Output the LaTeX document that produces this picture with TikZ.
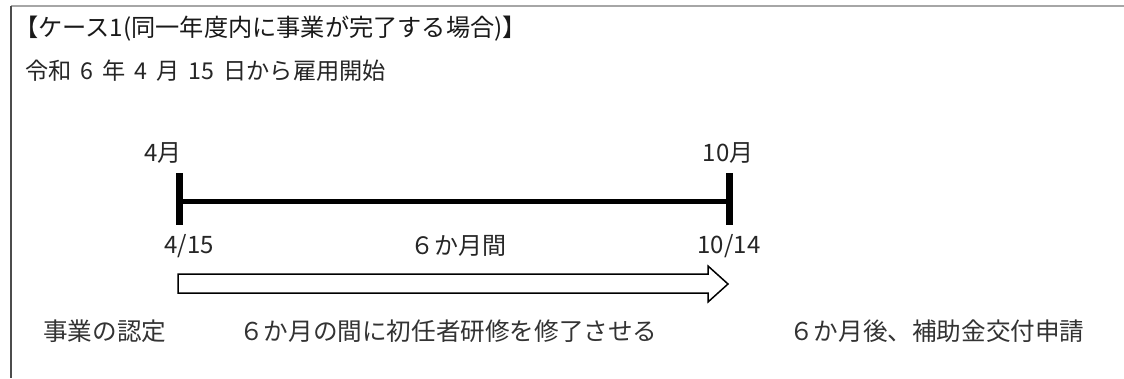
\documentclass[tikz,border=0pt]{standalone}
\usepackage{fontspec}
\setmainfont{Noto Sans CJK JP}
\newcommand{\gp}{\hspace{9pt}}
\begin{document}
\begin{tikzpicture}[x=1pt,y=-1pt,
  lbl/.style={inner sep=0pt, text=black!85, font=\fontsize{24}{28}\selectfont},
  low/.style={inner sep=0pt, text=black!80, font=\fontsize{24.6}{28}\selectfont, anchor=west},
  tick/.style={line width=6.5pt},
  bar/.style={line width=4.5pt},
  framel/.style={line width=1.5pt}]
\useasboundingbox (0,0) rectangle (1124,378);
\fill[white] (0,0) rectangle (1124,378);
% frame
\coordinate (fa) at (11,6);
\coordinate (fb) at (1124,6);
\coordinate (fc) at (11,378);
\draw[framel, black!35] (fa) -- (fb);
\draw[framel, black!70] (fa) -- (fc);
% headings
\node[lbl, anchor=west, text=black!90, font=\fontsize{24.2}{28}\selectfont] (title) at (14,29) {【ケース1(同一年度内に事業が完了する場合)】};
\node[lbl, anchor=west, font=\fontsize{23.2}{26}\selectfont] (sub) at (25,71) {令和\gp{}6\gp{}年\gp{}4\gp{}月\gp{}15\gp{}日から雇用開始};
% timeline
\coordinate (L) at (179.5,201.5);
\coordinate (R) at (729.5,201.5);
\coordinate (Lt) at (179.5,173);
\coordinate (Lb) at (179.5,225);
\coordinate (Rt) at (729.5,173);
\coordinate (Rb) at (729.5,225);
\draw[bar] (L) -- (R);
\draw[tick] (Lt) -- (Lb);
\draw[tick] (Rt) -- (Rb);
\node[lbl] (m4) at (163,153) {4月};
\node[lbl] (m10) at (728,153) {10月};
\node[lbl] (d415) at (189,246) {4/15};
\node[lbl] (d1014) at (729,246) {10/14};
\node[lbl] (six) at (458,246) {６か月間};
% block arrow
\coordinate (a1) at (178,274);
\coordinate (a2) at (708,274);
\coordinate (a3) at (708,266);
\coordinate (a4) at (728,284);
\coordinate (a5) at (708,302);
\coordinate (a6) at (708,293);
\coordinate (a7) at (178,293);
\draw[line width=1.5pt, fill=white, line join=miter] (a1) -- (a2) -- (a3) -- (a4) -- (a5) -- (a6) -- (a7) -- cycle;
% bottom texts
\node[low] (b1) at (43,331) {事業の認定};
\node[low] (b2) at (239,331) {６か月の間に初任者研修を修了させる};
\node[low] (b3) at (789,331) {６か月後、補助金交付申請};
\end{tikzpicture}
\end{document}
